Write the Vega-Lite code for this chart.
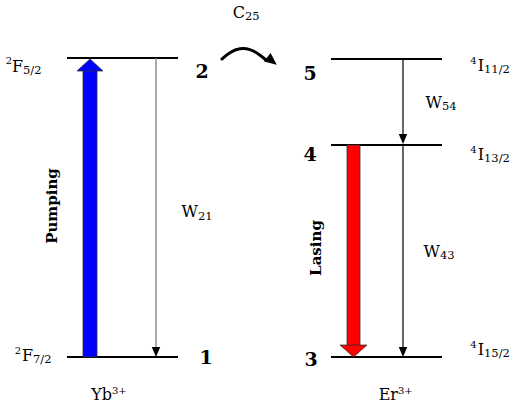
{
  "$schema": "https://vega.github.io/schema/vega-lite/v6.json",
  "width": 513,
  "height": 404,
  "padding": 0,
  "autosize": {"type": "fit", "contains": "padding"},
  "background": "white",
  "config": {"view": {"stroke": null}},
  "encoding": {
    "x": {"field": "x", "type": "quantitative", "scale": {"domain": [0, 513], "nice": false, "zero": false}, "axis": null},
    "y": {"field": "y", "type": "quantitative", "scale": {"domain": [404, 0], "nice": false, "zero": false}, "axis": null}
  },
  "layer": [
    {
      "data": {"values": [
        {"level": "2F5/2", "x": 67, "x2": 178, "y": 58},
        {"level": "2F7/2", "x": 67, "x2": 178, "y": 357},
        {"level": "4I11/2", "x": 331, "x2": 442, "y": 59},
        {"level": "4I13/2", "x": 331, "x2": 442, "y": 145},
        {"level": "4I15/2", "x": 331, "x2": 442, "y": 357}
      ]},
      "mark": {"type": "rule", "color": "black", "strokeWidth": 2},
      "encoding": {"x2": {"field": "x2"}}
    },
    {
      "data": {"values": [
        {"k": "pump", "x": 83, "x2": 97, "y": 70, "y2": 357},
        {"k": "lase", "x": 347, "x2": 360, "y": 145, "y2": 346}
      ]},
      "mark": {"type": "rect", "stroke": "#303030", "strokeWidth": 0.8},
      "encoding": {
        "x2": {"field": "x2"},
        "y2": {"field": "y2"},
        "color": {"field": "k", "type": "nominal", "scale": {"domain": ["pump", "lase"], "range": ["#0000ff", "#ff0000"]}, "legend": null}
      }
    },
    {
      "data": {"values": [{"k": "pump", "x": 90, "y": 65}]},
      "mark": {"type": "point", "filled": true, "opacity": 1, "shape": "M0,-0.46L1,0.46L-1,0.46Z", "size": 676, "stroke": "#303030", "strokeWidth": 0.8},
      "encoding": {"color": {"field": "k", "type": "nominal", "legend": null}}
    },
    {
      "data": {"values": [{"k": "lase", "x": 353.5, "y": 351}]},
      "mark": {"type": "point", "filled": true, "opacity": 1, "shape": "M-1,-0.44L1,-0.44L0,0.44Z", "size": 729, "stroke": "#303030", "strokeWidth": 0.8},
      "encoding": {"color": {"field": "k", "type": "nominal", "legend": null}}
    },
    {
      "data": {"values": [{"x": 156, "y": 58, "y2": 350}]},
      "mark": {"type": "rule", "color": "#7f7f7f", "strokeWidth": 1.3},
      "encoding": {"y2": {"field": "y2"}}
    },
    {
      "data": {"values": [
        {"x": 403, "y": 59, "y2": 138},
        {"x": 403, "y": 145, "y2": 350}
      ]},
      "mark": {"type": "rule", "color": "black", "strokeWidth": 1.2},
      "encoding": {"y2": {"field": "y2"}}
    },
    {
      "data": {"values": [
        {"x": 156, "y": 352},
        {"x": 403, "y": 139},
        {"x": 403, "y": 352}
      ]},
      "mark": {"type": "point", "filled": true, "opacity": 1, "color": "black", "shape": "M-0.85,-1L0.85,-1L0,1Z", "size": 100}
    },
    {
      "data": {"values": [
        {"o": 1, "x": 222, "y": 59},
        {"o": 2, "x": 230, "y": 52},
        {"o": 3, "x": 240, "y": 48},
        {"o": 4, "x": 250, "y": 49},
        {"o": 5, "x": 259, "y": 54},
        {"o": 6, "x": 266, "y": 60}
      ]},
      "mark": {"type": "line", "color": "black", "strokeWidth": 3, "strokeCap": "round", "interpolate": "basis"},
      "encoding": {"order": {"field": "o"}}
    },
    {
      "data": {"values": [{"x": 272, "y": 61}]},
      "mark": {"type": "point", "filled": true, "opacity": 1, "color": "black", "shape": "M-1,-0.9L1,0L-1,0.9Z", "size": 144, "angle": 38}
    },
    {
      "data": {"values": [
        {"x": 23, "y": 72, "t": "F"},
        {"x": 33, "y": 361, "t": "F"},
        {"x": 112, "y": 400, "t": "Yb"},
        {"x": 398, "y": 400, "t": "Er"},
        {"x": 245, "y": 18, "t": "C"},
        {"x": 198, "y": 217, "t": "W"},
        {"x": 442, "y": 108, "t": "W"},
        {"x": 440, "y": 257, "t": "W"},
        {"x": 484, "y": 71, "t": "I"},
        {"x": 484, "y": 160, "t": "I"},
        {"x": 484, "y": 355, "t": "I"}
      ]},
      "mark": {"type": "text", "font": "DejaVu Serif", "fontSize": 16, "align": "right", "baseline": "alphabetic", "color": "black"},
      "encoding": {"text": {"field": "t"}}
    },
    {
      "data": {"values": [
        {"x": 23, "y": 74, "t": "5/2"},
        {"x": 33, "y": 363, "t": "7/2"},
        {"x": 245, "y": 20, "t": "25"},
        {"x": 198, "y": 220, "t": "21"},
        {"x": 442, "y": 110, "t": "54"},
        {"x": 440, "y": 259, "t": "43"},
        {"x": 484, "y": 73, "t": "11/2"},
        {"x": 484, "y": 162, "t": "13/2"},
        {"x": 484, "y": 357, "t": "15/2"}
      ]},
      "mark": {"type": "text", "font": "DejaVu Serif", "fontSize": 11.5, "align": "left", "baseline": "alphabetic", "color": "black"},
      "encoding": {"text": {"field": "t"}}
    },
    {
      "data": {"values": [
        {"x": 112, "y": 394, "t": "3+"},
        {"x": 398, "y": 394, "t": "3+"}
      ]},
      "mark": {"type": "text", "font": "DejaVu Serif", "fontSize": 10, "align": "left", "baseline": "alphabetic", "color": "black"},
      "encoding": {"text": {"field": "t"}}
    },
    {
      "data": {"values": [
        {"x": 12, "y": 64, "t": "2"},
        {"x": 21, "y": 354, "t": "2"},
        {"x": 476.5, "y": 64, "t": "4"},
        {"x": 476.5, "y": 153, "t": "4"},
        {"x": 476.5, "y": 348, "t": "4"}
      ]},
      "mark": {"type": "text", "font": "DejaVu Serif", "fontSize": 10, "align": "right", "baseline": "alphabetic", "color": "black"},
      "encoding": {"text": {"field": "t"}}
    },
    {
      "data": {"values": [
        {"x": 202, "y": 78, "t": "2"},
        {"x": 206, "y": 364, "t": "1"},
        {"x": 310, "y": 80, "t": "5"},
        {"x": 310, "y": 161, "t": "4"},
        {"x": 311, "y": 366, "t": "3"}
      ]},
      "mark": {"type": "text", "font": "DejaVu Serif", "fontSize": 19, "fontWeight": "bold", "align": "center", "baseline": "alphabetic", "color": "black"},
      "encoding": {"text": {"field": "t"}}
    },
    {
      "data": {"values": [
        {"x": 52, "y": 206, "t": "Pumping"},
        {"x": 316, "y": 248, "t": "Lasing"}
      ]},
      "mark": {"type": "text", "font": "DejaVu Serif", "fontSize": 15, "fontWeight": "bold", "angle": 270, "align": "center", "baseline": "middle", "color": "black"},
      "encoding": {"text": {"field": "t"}}
    }
  ]
}
